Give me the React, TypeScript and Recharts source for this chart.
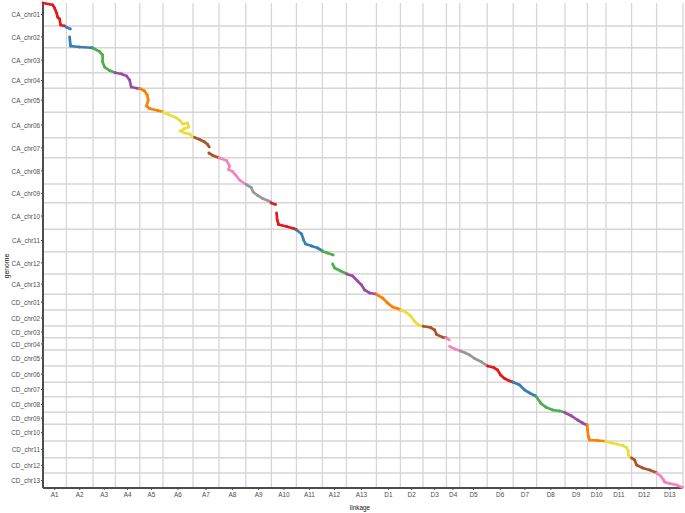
import React from 'react';
import { ScatterChart, Scatter, XAxis, YAxis, ReferenceLine } from 'recharts';

// Linkage groups (genetic map) and their lengths in cM
const linkageNames = ['A1','A2','A3','A4','A5','A6','A7','A8','A9','A10','A11','A12','A13','D1','D2','D3','D4','D5','D6','D7','D8','D9','D10','D11','D12','D13'];
const linkageLengths = [117,133,112,122,116,150,130,134,128,125,130,120,150,120,113,117,67,137,130,117,142,112,93,128,125,132];

// Genome chromosomes and their lengths in Mb
const chromosomeNames = ['CA_chr01','CA_chr02','CA_chr03','CA_chr04','CA_chr05','CA_chr06','CA_chr07','CA_chr08','CA_chr09','CA_chr10','CA_chr11','CA_chr12','CA_chr13','CD_chr01','CD_chr02','CD_chr03','CD_chr04','CD_chr05','CD_chr06','CD_chr07','CD_chr08','CD_chr09','CD_chr10','CD_chr11','CD_chr12','CD_chr13'];
const chromosomeLengths = [92,87,100,62,96,102,80,105,75,106,90,89,81,63,64,47,49,64,65,58,62,48,67,67,61,60];

const palette = ['#E41A1C','#377EB8','#4DAF4A','#984EA3','#FF7F00','#EBDD3B','#A65628','#F781BF','#999999'];

// Marker runs per linkage group: [cumulative linkage cM, cumulative genome Mb]; a group may have several runs
const traceA1 = [[[0,0],[49,8],[58,20],[68,40],[73,56],[83,64],[88,88],[108,92]]];
const traceA2 = [[[117,97],[137,104]],[[133,136],[137,168],[138,172],[183,176],[242,179],[248,180]]];
const traceA3 = [[[252,181],[283,194],[298,208],[298,236],[308,256],[333,270],[358,278]]];
const traceA4 = [[[361,279],[393,284],[418,292],[433,308],[441,336],[468,341],[483,342]]];
const traceA5 = [[[484,342],[508,352],[521,368],[526,388],[518,412],[533,422],[573,430],[598,435]]];
const traceA6 = [[[601,438],[633,448],[668,460],[688,472],[698,484],[723,480],[728,496],[703,504],[688,512],[708,520],[733,524],[750,536]]];
const traceA7 = [[[758,538],[783,546],[808,556],[823,566],[831,576]],[[829,600],[849,610],[876,618]]];
const traceA8 = [[[881,620],[918,630],[933,652],[928,666],[948,674],[963,688],[983,708],[1011,724]]];
const traceA9 = [[[1016,726],[1041,738],[1051,756],[1073,770],[1098,782],[1123,790],[1138,796]]];
const traceA10 = [[[1141,800],[1163,806]],[[1168,840],[1171,868],[1178,886],[1218,894],[1253,902],[1266,906]]];
const traceA11 = [[[1268,908],[1293,924],[1303,948],[1313,964],[1343,972],[1373,980],[1398,992]]];
const traceA12 = [[[1398,994],[1423,1000],[1451,1008]],[[1448,1044],[1458,1060],[1488,1072],[1516,1082]]];
const traceA13 = [[[1518,1084],[1548,1092],[1573,1112],[1593,1128],[1608,1148],[1633,1160],[1663,1164]]];
const traceD1 = [[[1668,1166],[1698,1180],[1723,1200],[1748,1216],[1773,1222],[1788,1228]]];
const traceD2 = [[[1789,1228],[1813,1236],[1838,1252],[1858,1274],[1878,1288],[1898,1292]]];
const traceD3 = [[[1901,1293],[1938,1298],[1958,1308],[1968,1326],[1998,1337],[2016,1339]]];
const traceD4 = [[[2016,1340],[2031,1348]],[[2033,1374],[2058,1384],[2083,1390]]];
const traceD5 = [[[2086,1392],[2113,1400],[2133,1408],[2158,1422],[2193,1436],[2218,1450]]];
const traceD6 = [[[2223,1452],[2253,1458],[2273,1468],[2288,1488],[2308,1502],[2328,1510],[2348,1516]]];
const traceD7 = [[[2351,1517],[2383,1528],[2408,1548],[2433,1560],[2463,1572]]];
const traceD8 = [[[2468,1576],[2488,1600],[2513,1616],[2548,1628],[2583,1632],[2608,1637]]];
const traceD9 = [[[2608,1638],[2643,1652],[2673,1668],[2698,1680],[2718,1688]]];
const traceD10 = [[[2721,1688],[2723,1708],[2726,1732],[2733,1748],[2773,1750],[2813,1753]]];
const traceD11 = [[[2813,1754],[2843,1760],[2868,1764],[2898,1770],[2918,1778],[2926,1792],[2926,1808],[2941,1820]]];
const traceD12 = [[[2943,1820],[2958,1828],[2968,1848],[2998,1860],[3033,1868],[3066,1878]]];
const traceD13 = [[[3068,1881],[3088,1892],[3103,1908],[3108,1916],[3133,1922],[3168,1928],[3198,1938]]];

const traces = [traceA1,traceA2,traceA3,traceA4,traceA5,traceA6,traceA7,traceA8,traceA9,traceA10,traceA11,traceA12,traceA13,
  traceD1,traceD2,traceD3,traceD4,traceD5,traceD6,traceD7,traceD8,traceD9,traceD10,traceD11,traceD12,traceD13];

const cumulative = (arr: number[]) => arr.reduce((acc: number[], v) => { acc.push(acc[acc.length - 1] + v); return acc; }, [0]);
const xBounds = cumulative(linkageLengths);
const yBounds = cumulative(chromosomeLengths);
const xTicks = linkageLengths.map((l, i) => xBounds[i] + l / 2);
const yTicks = chromosomeLengths.map((l, i) => yBounds[i] + l / 2);
const xMax = xBounds[xBounds.length - 1];
const yMax = yBounds[yBounds.length - 1];

const FONT = '"Liberation Sans", Arial, Helvetica, sans-serif';
const NARROW = 0.8;

const XTick = (props: any) => {
  const { x, y, payload } = props;
  const label = linkageNames[xTicks.indexOf(payload.value)] ?? '';
  return (
    <g transform={`translate(${x},${y}) scale(${NARROW},1)`}>
      <text x={0} y={0} dy="0.71em" textAnchor="middle" fontSize={8} fill="#4d4d4d" fontFamily={FONT}>{label}</text>
    </g>
  );
};

const YTick = (props: any) => {
  const { x, y, payload } = props;
  const label = chromosomeNames[yTicks.indexOf(payload.value)] ?? '';
  return (
    <g transform={`translate(${x},${y}) scale(${NARROW},1)`}>
      <text x={0} y={0} dy="0.355em" textAnchor="end" fontSize={8} fill="#4d4d4d" fontFamily={FONT}>{label}</text>
    </g>
  );
};

const runs = traces.flatMap((segments, gi) =>
  segments.map((seg, si) => ({ key: `${linkageNames[gi]}-${si}`, color: palette[gi % palette.length], data: seg.map(([x, y]) => ({ x, y })) }))
);

export default function App() {
  return (
    <div style={{ position: 'absolute', left: 0, top: 0, width: 685, height: 513, background: '#fff' }}>
      <ScatterChart width={685} height={513} margin={{ top: 3, right: 2, bottom: 0, left: 0 }}>
        <XAxis
          type="number"
          dataKey="x"
          domain={[0, xMax]}
          ticks={xTicks}
          interval={0}
          tick={<XTick />}
          tickSize={2}
          tickMargin={1}
          tickLine={{ stroke: '#4d4d4d' }}
          axisLine={{ stroke: '#4d4d4d', strokeWidth: 2 }}
          height={25}
          label={{
            content: (p: any) => {
              const vb = p.viewBox || { x: 43, width: 640 };
              const cx = vb.x + vb.width / 2 - 3;
              return (
                <g transform={`translate(${cx},510) scale(${NARROW},1)`}>
                  <text x={0} y={0} textAnchor="middle" fontSize={8} fill="#111" fontFamily={FONT}>linkage</text>
                </g>
              );
            },
          }}
        />
        <YAxis
          type="number"
          dataKey="y"
          reversed
          domain={[0, yMax]}
          ticks={yTicks}
          interval={0}
          tick={<YTick />}
          tickSize={2}
          tickMargin={1}
          tickLine={{ stroke: '#4d4d4d' }}
          axisLine={{ stroke: '#4d4d4d', strokeWidth: 2 }}
          width={43}
          label={{
            content: () => (
              <g transform="translate(9,266) rotate(-90) scale(0.85,1)">
                <text x={0} y={0} textAnchor="middle" fontSize={8} fill="#111" fontFamily={FONT}>genome</text>
              </g>
            ),
          }}
        />
        {xBounds.slice(1).map((b, i) => (
          <ReferenceLine key={'vx' + i} x={b} stroke="#d6d6d6" strokeWidth={1.3} />
        ))}
        {yBounds.slice(1, -1).map((b, i) => (
          <ReferenceLine key={'hy' + i} y={b} stroke="#d6d6d6" strokeWidth={1.3} />
        ))}
        {runs.map((r) => (
          <Scatter
            key={r.key}
            name={r.key}
            data={r.data}
            fill={r.color}
            line={{ stroke: r.color, strokeWidth: 2.7 }}
            lineType="joint"
            isAnimationActive={false}
            shape={(p: any) => <circle cx={p.cx} cy={p.cy} r={1.4} fill={r.color} />}
          />
        ))}
      </ScatterChart>
    </div>
  );
}
